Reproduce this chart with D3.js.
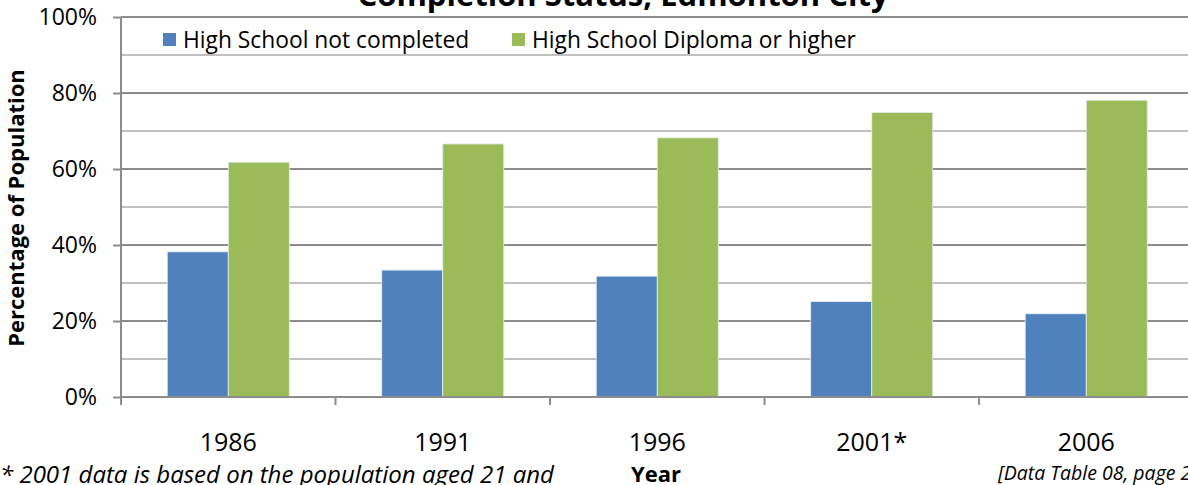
<!DOCTYPE html>
<html>
<head>
<meta charset="utf-8">
<script src="https://cdn.jsdelivr.net/npm/d3@7"></script>
<style>
  body { margin: 0; background: #fff; overflow: hidden; }
  svg { display: block; font-family: "Open Sans", sans-serif; }
</style>
</head>
<body>
<div id="chart"></div>
<script>
// data
var years = ["1986", "1991", "1996", "2001*", "2006"];
var notCompleted = [38.2, 33.4, 31.8, 25.1, 21.9];
var diplomaOrHigher = [61.8, 66.6, 68.2, 74.9, 78.1];
var seriesNames = ["High School not completed", "High School Diploma or higher"];
var seriesColors = ["#4f81bd", "#9bbb59"];
var yTicks = [0, 20, 40, 60, 80, 100];

var W = 1188, H = 485;
var plotL = 121, plotT = 17, plotB = 397, plotR = 1193.5;

var svg = d3.select("#chart").append("svg")
    .attr("width", W)
    .attr("height", H);

var y = d3.scaleLinear().domain([0, 100]).range([plotB, plotT]);
var x = d3.scaleBand().domain(years).range([plotL, plotR])
    .paddingInner(0.431).paddingOuter(0.2156);
var x1 = d3.scaleBand().domain([0, 1]).range([0, x.bandwidth()]);

// gridlines, minor then major
svg.append("g").selectAll("line")
    .data(d3.range(10, 100, 20))
    .enter().append("line")
    .attr("x1", plotL).attr("x2", W)
    .attr("y1", function (d) { return y(d); })
    .attr("y2", function (d) { return y(d); })
    .attr("stroke", "#c0c0c0").attr("stroke-width", 2);
svg.append("g").selectAll("line")
    .data(yTicks.slice(1))
    .enter().append("line")
    .attr("x1", plotL).attr("x2", W)
    .attr("y1", function (d) { return y(d); })
    .attr("y2", function (d) { return y(d); })
    .attr("stroke", "#8c8c8c").attr("stroke-width", 2);

// bars
var rows = years.map(function (yr, i) {
    return { year: yr, vals: [notCompleted[i], diplomaOrHigher[i]] };
});
var grp = svg.append("g").selectAll("g")
    .data(rows)
    .enter().append("g")
    .attr("transform", function (d) { return "translate(" + x(d.year) + ",0)"; });
grp.selectAll("rect")
    .data(function (d) { return d.vals; })
    .enter().append("rect")
    .attr("x", function (d, i) { return x1(i); })
    .attr("y", function (d) { return y(d); })
    .attr("width", x1.bandwidth())
    .attr("height", function (d) { return plotB - y(d); })
    .attr("fill", function (d, i) { return seriesColors[i]; })
    .attr("stroke", "#e8eef6").attr("stroke-width", 0.8);

// y axis
var yAxis = svg.append("g")
    .attr("transform", "translate(" + plotL + ",0)")
    .call(d3.axisLeft(y).tickValues(yTicks).tickSize(8).tickPadding(16)
        .tickFormat(function (d) { return d + "%"; }));
yAxis.select(".domain").attr("stroke", "#8c8c8c").attr("stroke-width", 2)
    .attr("d", "M0," + plotT + "V" + (plotB + 8));
yAxis.selectAll(".tick line").attr("stroke", "#8c8c8c").attr("stroke-width", 2);
yAxis.selectAll("text").attr("font-size", 23).attr("fill", "#000")
    .attr("font-family", "Open Sans");

// x axis: line plus ticks at category boundaries
var xg = svg.append("g");
xg.append("line").attr("x1", plotL).attr("x2", W)
    .attr("y1", plotB).attr("y2", plotB)
    .attr("stroke", "#8c8c8c").attr("stroke-width", 2);
xg.selectAll(".bt")
    .data(years.slice(1))
    .enter().append("line")
    .attr("x1", function (d) { return x(d) - x.step() * 0.2156; })
    .attr("x2", function (d) { return x(d) - x.step() * 0.2156; })
    .attr("y1", plotB).attr("y2", plotB + 8)
    .attr("stroke", "#8c8c8c").attr("stroke-width", 2);
xg.selectAll("text")
    .data(years)
    .enter().append("text")
    .attr("x", function (d) { return x(d) + x.bandwidth() / 2; })
    .attr("y", 451)
    .attr("text-anchor", "middle")
    .attr("font-size", 25)
    .text(function (d) { return d; });

// legend
var leg = svg.append("g");
var legX = [163, 512];
seriesNames.forEach(function (n, i) {
    leg.append("rect").attr("x", legX[i]).attr("y", 33)
        .attr("width", 13).attr("height", 13).attr("fill", seriesColors[i]);
    leg.append("text").attr("x", legX[i] + 20).attr("y", 48)
        .attr("font-size", 22.8).text(n);
});

// title (only its second line is in view)
svg.append("text").attr("x", 623).attr("y", 6)
    .attr("text-anchor", "middle").attr("font-weight", "bold")
    .attr("font-size", 31).text("Completion Status, Edmonton City");

// axis titles
svg.append("text")
    .attr("transform", "translate(24,208) rotate(-90)")
    .attr("text-anchor", "middle").attr("font-weight", "bold")
    .attr("font-size", 22).text("Percentage of Population");
svg.append("text").attr("x", 656).attr("y", 482)
    .attr("text-anchor", "middle").attr("font-weight", "bold")
    .attr("font-size", 22).text("Year");

// notes
svg.append("text").attr("x", 0).attr("y", 483)
    .attr("font-style", "italic").attr("font-size", 24)
    .text("* 2001 data is based on the population aged 21 and");
svg.append("text").attr("x", 998).attr("y", 480)
    .attr("font-style", "italic").attr("font-size", 19.5)
    .text("[Data Table 08, page 2");
</script>
</body>
</html>
